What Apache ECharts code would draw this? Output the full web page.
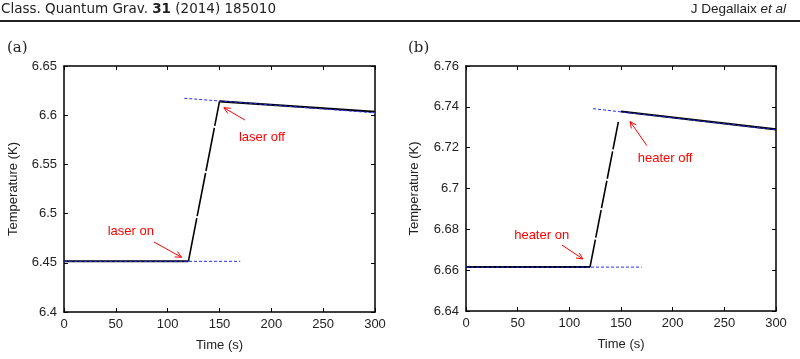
<!DOCTYPE html>
<html><head><meta charset="utf-8">
<script src="https://cdn.jsdelivr.net/npm/echarts@6/dist/echarts.min.js"></script>
<style>html,body{margin:0;padding:0;background:#fff}#c{width:800px;height:359px}</style>
</head><body><div id="c"></div>
<script>
// Panel (a): laser heating
const aBefore = [[0, 6.4515], [120, 6.4515]];
const aRise = [[120, 6.4515], [150, 6.6140]];
const aAfter = [[150, 6.6140], [300, 6.6035]];
const aFitBefore = [[0, 6.4515], [170, 6.4515]];
const aFitAfter = [[116, 6.6172], [304, 6.6020]];
const aTicksY = [6.4, 6.45, 6.5, 6.55, 6.6, 6.65];
// Panel (b): heater
const bBefore = [[0, 6.6615], [120, 6.6615]];
const bRise = [[120, 6.6615], [147.5, 6.7328]];
const bAfter = [[150, 6.7377], [300, 6.7290]];
const bFitBefore = [[0, 6.6615], [170, 6.6615]];
const bFitAfter = [[123, 6.7391], [300, 6.7288]];
const bTicksY = [6.64, 6.66, 6.68, 6.7, 6.72, 6.74, 6.76];
const xTicks = [0, 50, 100, 150, 200, 250, 300];
// annotations: [text, textPos, arrowFrom, arrowTo, panel]
const notes = [
  ['laser on', [64.4, 6.4823], [86.7, 6.4712], [113.4, 6.4556], 0],
  ['laser off', [190.9, 6.5779], [174.5, 6.5951], [154.2, 6.6076], 0],
  ['heater on', [73.2, 6.6768], [92.8, 6.6723], [113.1, 6.6655], 1],
  ['heater off', [192.7, 6.7145], [175, 6.7210], [158.9, 6.7328], 1]
];

const FONT = 'Liberation Sans';
const chart = echarts.init(document.getElementById('c'), null, {renderer: 'canvas'});

function xAx(gi, main) {
  return {
    type: 'value', gridIndex: gi, min: 0, max: 300, interval: 50,
    position: main ? 'bottom' : 'top',
    name: main ? 'Time (s)' : '', nameLocation: 'middle', nameGap: 27,
    nameTextStyle: {fontFamily: FONT, fontSize: 13, color: '#222'},
    axisLine: {show: true, onZero: false, lineStyle: {color: '#000', width: 1.5}},
    axisTick: {show: true, inside: true, length: 4, lineStyle: {color: '#000'}},
    axisLabel: {show: main, fontFamily: FONT, fontSize: 13, color: '#222', margin: 6},
    splitLine: {show: false}
  };
}
function yAx(gi, main, min, max, iv, gap) {
  return {
    type: 'value', gridIndex: gi, min: min, max: max, interval: iv,
    position: main ? 'left' : 'right',
    name: main ? 'Temperature (K)' : '', nameLocation: 'middle', nameRotate: 90, nameGap: gap,
    nameTextStyle: {fontFamily: FONT, fontSize: 13, color: '#222'},
    axisLine: {show: true, onZero: false, lineStyle: {color: '#000', width: 1.5}},
    axisTick: {show: true, inside: true, length: 4, lineStyle: {color: '#000'}},
    axisLabel: {show: main, fontFamily: FONT, fontSize: 13, color: '#222', margin: 7,
      formatter: v => String(parseFloat(v.toFixed(4)))},
    splitLine: {show: false}
  };
}
function line(data, xi, yi, color, w, dash, z) {
  return {
    type: 'line', xAxisIndex: xi, yAxisIndex: yi, data: data, symbol: 'none',
    lineStyle: {color: color, width: w, type: dash || 'solid'},
    z: z, animation: false, silent: true
  };
}
const BLUE = '#2a2aff';

chart.setOption({
  animation: false,
  grid: [
    {left: 64, top: 66, width: 311, height: 246},
    {left: 466, top: 66, width: 310, height: 245}
  ],
  xAxis: [xAx(0, true), xAx(0, false), xAx(1, true), xAx(1, false)],
  yAxis: [
    yAx(0, true, 6.4, 6.65, 0.05, 44), yAx(0, false, 6.4, 6.65, 0.05, 0),
    yAx(1, true, 6.64, 6.76, 0.02, 45), yAx(1, false, 6.64, 6.76, 0.02, 0)
  ],
  series: [
    line(aBefore, 0, 0, '#000', 2, null, 2),
    line(aRise, 0, 0, '#000', 1.6, [44, 2], 2),
    line(aAfter, 0, 0, '#000', 2.2, null, 2),
    line(aFitBefore, 0, 0, BLUE, 1, [3, 2], 3),
    line(aFitAfter, 0, 0, BLUE, 1, [3, 2], 3),
    line(bBefore, 2, 2, '#000', 2, null, 2),
    line(bRise, 2, 2, '#000', 1.6, [28, 2], 2),
    line(bAfter, 2, 2, '#000', 2.2, null, 2),
    line(bFitBefore, 2, 2, BLUE, 1, [3, 2], 3),
    line(bFitAfter, 2, 2, BLUE, 1, [3, 2], 3)
  ]
});

const g = [
  {type: 'text', left: 1, top: 2, style: {
    text: '{n|Class. Quantum Grav. }{b|31}{n| (2014) 185010}',
    rich: {n: {fontFamily: 'DejaVu Sans', fontSize: 13.5, fill: '#222'}, b: {fontFamily: 'DejaVu Sans', fontSize: 13.5, fontWeight: 'bold', fill: '#222'}}
  }},
  {type: 'text', right: 14, top: 2, style: {
    text: '{n|J Degallaix }{i|et al}',
    rich: {n: {fontFamily: FONT, fontSize: 13.5, fill: '#222'}, i: {fontFamily: FONT, fontSize: 13.5, fontStyle: 'italic', fill: '#222'}}
  }},
  {type: 'line', shape: {x1: 0, y1: 21, x2: 800, y2: 21}, style: {stroke: '#222', lineWidth: 1.8}},
  {type: 'text', left: 7, top: 41, style: {text: '(a)', fontFamily: 'DejaVu Serif', fontSize: 15, fill: '#222'}},
  {type: 'text', left: 408, top: 41, style: {text: '(b)', fontFamily: 'DejaVu Serif', fontSize: 15, fill: '#222'}}
];

notes.forEach(n => {
  const finder = {gridIndex: n[4]};
  const tp = chart.convertToPixel(finder, n[1]);
  const p0 = chart.convertToPixel(finder, n[2]);
  const p1 = chart.convertToPixel(finder, n[3]);
  g.push({type: 'text', x: tp[0], y: tp[1], style: {
    text: n[0], fontFamily: FONT, fontSize: 13, fill: '#ff0000', align: 'center', verticalAlign: 'middle'
  }});
  g.push({type: 'line', shape: {x1: p0[0], y1: p0[1], x2: p1[0], y2: p1[1]}, style: {stroke: '#ff0000', lineWidth: 1}});
  const ang = Math.atan2(p1[1] - p0[1], p1[0] - p0[0]);
  const L = 7, s = 0.45;
  g.push({type: 'polyline', shape: {points: [
    [p1[0] - L * Math.cos(ang - s), p1[1] - L * Math.sin(ang - s)],
    [p1[0], p1[1]],
    [p1[0] - L * Math.cos(ang + s), p1[1] - L * Math.sin(ang + s)]
  ]}, style: {stroke: '#ff0000', lineWidth: 1, fill: null}});
});

chart.setOption({graphic: g});
</script></body></html>
